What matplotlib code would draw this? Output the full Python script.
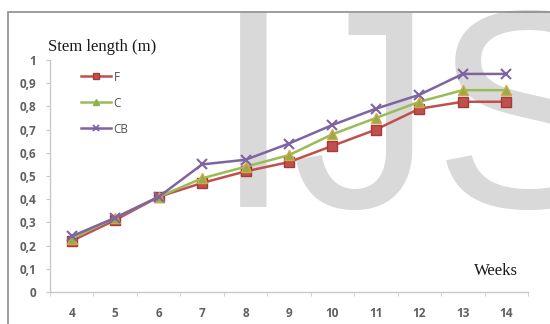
import matplotlib
matplotlib.use("Agg")
import matplotlib.pyplot as plt
from matplotlib.patches import Rectangle
from matplotlib.lines import Line2D

weeks = [4, 5, 6, 7, 8, 9, 10, 11, 12, 13, 14]
f_len = [0.22, 0.31, 0.41, 0.47, 0.52, 0.56, 0.63, 0.70, 0.79, 0.82, 0.82]
c_len = [0.23, 0.32, 0.41, 0.49, 0.54, 0.59, 0.68, 0.75, 0.82, 0.87, 0.87]
cb_len = [0.24, 0.32, 0.41, 0.55, 0.57, 0.64, 0.72, 0.79, 0.85, 0.94, 0.94]
y_ticks = [0, 0.1, 0.2, 0.3, 0.4, 0.5, 0.6, 0.7, 0.8, 0.9, 1]
y_labels = ["0", "0,1", "0,2", "0,3", "0,4", "0,5", "0,6", "0,7", "0,8", "0,9", "1"]

W, H = 550, 324
fig = plt.figure(figsize=(W / 100, H / 100), dpi=100)
fig.patch.set_facecolor("white")

# watermark, kept behind the plot
fig.text(214 / W, 1 - 207 / H, "IJS", fontsize=204, family="Liberation Sans",
         color="#d9d9d9", va="baseline", ha="left", zorder=-1)

# chart frame
fig.patches.append(Rectangle((8 / W, -0.2), 1.2, 1 - 12 / H + 0.2,
                             transform=fig.transFigure, fill=False,
                             edgecolor="#8c8c8c", linewidth=1.2, zorder=5))

ax = fig.add_axes([50 / W, 1 - 292 / H, (528 - 50) / W, (292 - 60) / H])
ax.patch.set_alpha(0)
ax.set_xlim(3.5, 14.5)
ax.set_ylim(0, 1)

red, green, purple = "#c0504d", "#9bbb59", "#7f64a2"
ax.plot(weeks, f_len, color=red, lw=1.8, marker="s", ms=6.5,
        mfc=red, mec="#a33b38", zorder=3)
ax.plot(weeks, c_len, color=green, lw=1.8, marker="^", ms=6.5,
        mfc="#8cb04a", mec="#d9a441", zorder=4)
ax.plot(weeks, cb_len, color=purple, lw=1.8, marker="x", ms=7, mew=1.5,
        zorder=5)

for s in ["top", "right"]:
    ax.spines[s].set_visible(False)
for s in ["left", "bottom"]:
    ax.spines[s].set_color("#c8c8c8")
    ax.spines[s].set_linewidth(1.0)

ax.set_yticks(y_ticks)
ax.set_yticklabels(y_labels)
ax.set_xticks(weeks)
ax.set_xticks([w + 0.5 for w in weeks[:-1]] + [3.5, 14.5], minor=True)
ax.tick_params(axis="x", which="major", length=0, pad=11)
ax.tick_params(axis="x", which="minor", length=3, color="#c8c8c8")
ax.tick_params(axis="y", length=3, color="#c8c8c8", pad=7)
for lab in ax.get_xticklabels() + ax.get_yticklabels():
    lab.set_family("Open Sans")
    lab.set_fontsize(8.5)
    lab.set_fontweight("bold")
    lab.set_color("#606060")

fig.text(48 / W, 1 - 47 / H, "Stem length (m)", family="Liberation Serif",
         fontsize=12, color="#1a1a1a", va="center", ha="left")
fig.text(518 / W, 1 - 271 / H, "Weeks", family="Liberation Serif",
         fontsize=12, color="#1a1a1a", va="center", ha="right")

handles = [
    Line2D([], [], color=red, lw=1.8, marker="s", ms=5, mfc=red, mec="#a33b38"),
    Line2D([], [], color=green, lw=1.8, marker="^", ms=5, mfc="#8cb04a", mec="#8cb04a"),
    Line2D([], [], color=purple, lw=1.8, marker="x", ms=5, mew=1.3),
]
leg = fig.legend(handles, ["F", "C", "CB"], loc="upper left",
                 bbox_to_anchor=(70 / W, 1 - 60 / H), frameon=False,
                 handlelength=2.6, handletextpad=0.2, labelspacing=1.1,
                 prop={"family": "Open Sans", "size": 8.5})
for t in leg.get_texts():
    t.set_color("#505050")

fig.savefig("out.png", dpi=100)
